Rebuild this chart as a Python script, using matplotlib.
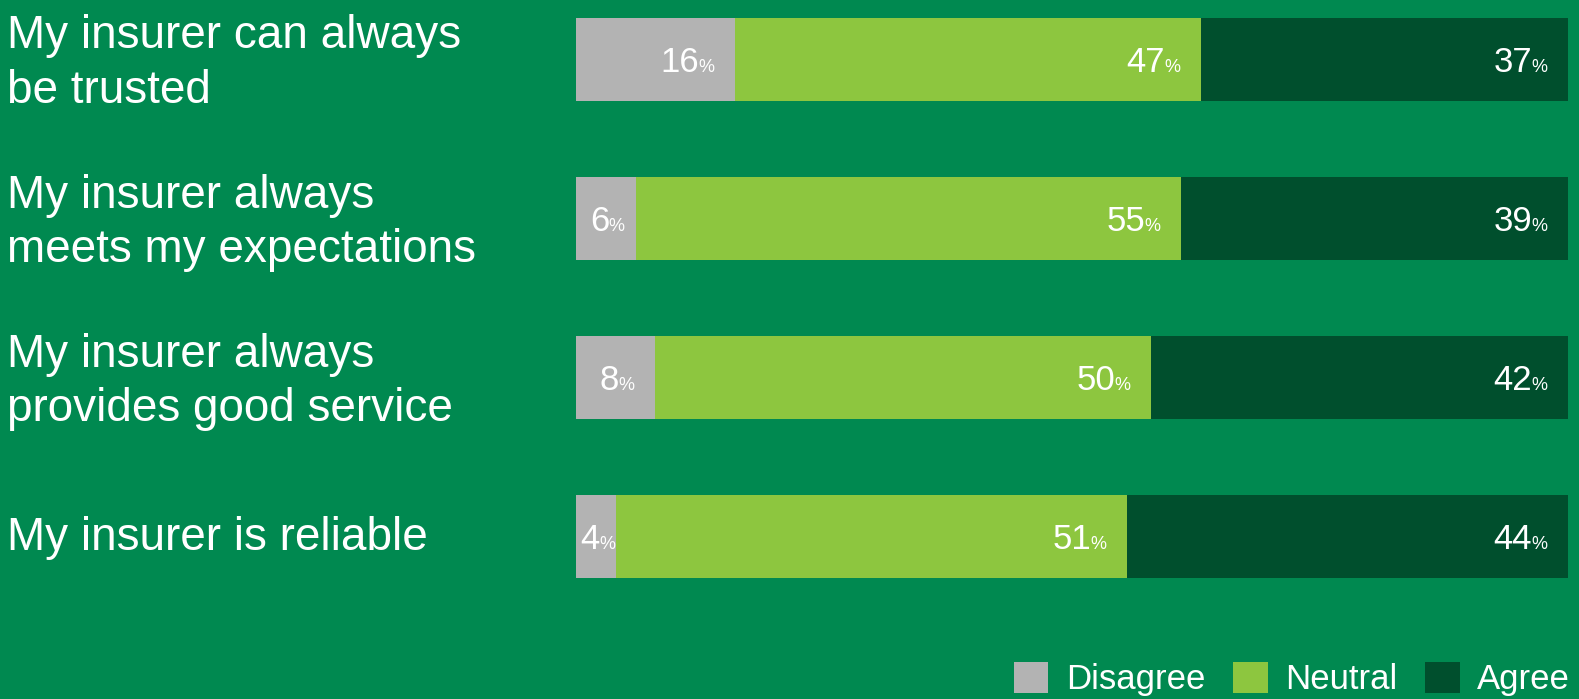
import matplotlib
matplotlib.use("Agg")
import matplotlib.pyplot as plt
from matplotlib.patches import Patch
from matplotlib.transforms import blended_transform_factory, offset_copy
import numpy as np

plt.rcParams['font.family'] = ['Liberation Sans', 'DejaVu Sans']

statements = ["My insurer can always\nbe trusted",
              "My insurer always\nmeets my expectations",
              "My insurer always\nprovides good service",
              "My insurer is reliable"]
series_names = ["Disagree", "Neutral", "Agree"]
disagree = [16, 6, 8, 4]
neutral = [47, 55, 50, 51]
agree = [37, 39, 42, 44]
colors = ["#B3B3B3", "#8DC63F", "#004F2D"]
bg = "#008950"

W, H = 1579, 699
fig = plt.figure(figsize=(W/100, H/100), dpi=100, facecolor=bg)
ax = fig.add_axes([576/W, (H-578)/H, (1568-576)/W, 560/H])
ax.set_facecolor(bg)
ax.set_axis_off()

data = np.array([disagree, neutral, agree], dtype=float)
totals = data.sum(axis=0)
shares = data / totals * 100
y = np.arange(len(statements))
bh = 0.52
left = np.zeros(len(statements))
seg_info = []
for k in range(3):
    ax.barh(y, shares[k], left=left, height=bh, color=colors[k], edgecolor='none')
    for i in range(len(y)):
        seg_info.append((left[i], shares[k][i], y[i], int(data[k][i])))
    left = left + shares[k]
ax.set_xlim(0, 100)
ax.set_ylim(len(y) - 1 + bh/2, -bh/2)

fig.canvas.draw()
renderer = fig.canvas.get_renderer()
for start, width, yy, val in seg_info:
    end = start + width
    if width >= 10:
        xr = end - 2.1
    else:
        xr = start + width/2 + 1.9
    pct = ax.text(xr, yy, "%", color="white", fontsize=13, ha='right',
                  va='baseline',
                  transform=offset_copy(ax.transData, fig=fig, x=0, y=-9, units='points'))
    bb = pct.get_window_extent(renderer)
    wpt = bb.width * 72 / fig.dpi
    ax.text(xr, yy, str(val), color="white", fontsize=25, ha='right', va='baseline',
            transform=offset_copy(ax.transData, fig=fig, x=-wpt + 0.5, y=-9, units='points'))

tr = blended_transform_factory(fig.transFigure, ax.transData)
for i, s in enumerate(statements):
    dy = -3 if "\n" in s else -1
    ax.text(7/W, y[i], s, transform=offset_copy(tr, fig=fig, x=0, y=dy, units='points'),
            color="white", fontsize=33, ha='left', va='center', linespacing=1.3)

handles = [Patch(facecolor=c, edgecolor='none') for c in colors]
leg = fig.legend(handles, series_names, loc='lower right', bbox_to_anchor=(1570/W, 3/H),
                 ncol=3, frameon=False, fontsize=25, handlelength=1.0, handleheight=1.0,
                 handletextpad=0.5, columnspacing=0.8, borderaxespad=0, borderpad=0)
for t in leg.get_texts():
    t.set_color("white")

fig.savefig("out.png", dpi=100, facecolor=bg)
